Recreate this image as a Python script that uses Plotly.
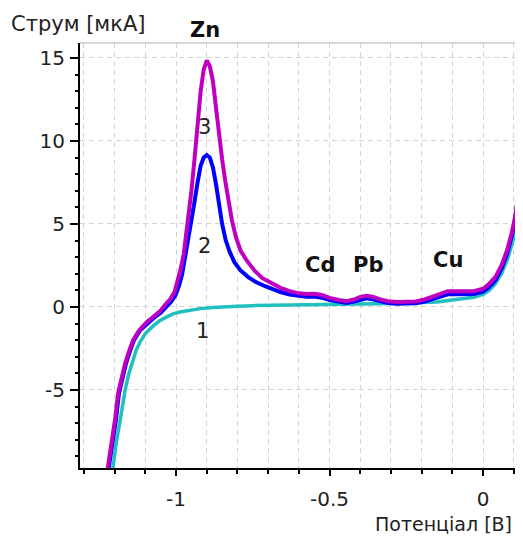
import plotly.graph_objects as go

# Curve 3 (magenta)
x3 = [-1.225, -1.210, -1.199, -1.189, -1.178, -1.166, -1.152, -1.140, -1.120, -1.095,
      -1.075, -1.052, -1.035, -1.020, -1.005, -0.995, -0.985, -0.975, -0.962, -0.950,
      -0.940, -0.930, -0.920, -0.910, -0.900, -0.890, -0.880, -0.870, -0.860, -0.850,
      -0.840, -0.830, -0.818, -0.805, -0.790, -0.770, -0.745, -0.720, -0.690, -0.660,
      -0.630, -0.600, -0.575, -0.550, -0.525, -0.500, -0.470, -0.445, -0.420, -0.400,
      -0.380, -0.360, -0.335, -0.310, -0.280, -0.250, -0.220, -0.190, -0.165, -0.140,
      -0.115, -0.090, -0.060, -0.030, 0.000, 0.020, 0.040, 0.060, 0.078, 0.094,
      0.105, 0.112, 0.118, 0.122, 0.127, 0.132]
y3 = [-10.0, -8.2, -6.8, -5.2, -4.2, -3.4, -2.6, -2.0, -1.4, -0.9,
      -0.6, -0.25, 0.15, 0.45, 0.9, 1.5, 2.3, 3.2, 5.0, 7.0,
      8.9, 11.0, 13.0, 14.3, 14.85, 14.5, 13.6, 12.0, 10.3, 8.9,
      7.6, 6.4, 5.2, 4.2, 3.4, 2.8, 2.2, 1.75, 1.45, 1.15,
      0.95, 0.82, 0.78, 0.80, 0.72, 0.55, 0.42, 0.35, 0.45, 0.60,
      0.68, 0.62, 0.45, 0.35, 0.30, 0.30, 0.33, 0.45, 0.62, 0.82,
      0.95, 0.95, 0.92, 0.95, 1.10, 1.40, 1.80, 2.50, 3.40, 4.50,
      5.50, 6.30, 7.30, 8.20, 9.50, 10.8]

# Curve 2 (blue)
x2 = [-1.222, -1.207, -1.196, -1.186, -1.175, -1.163, -1.149, -1.137, -1.117, -1.092,
      -1.072, -1.050, -1.032, -1.017, -1.002, -0.990, -0.980, -0.968, -0.955, -0.942,
      -0.930, -0.920, -0.910, -0.900, -0.890, -0.880, -0.870, -0.860, -0.850, -0.838,
      -0.825, -0.810, -0.790, -0.765, -0.740, -0.710, -0.690, -0.660, -0.630, -0.600,
      -0.575, -0.550, -0.525, -0.500, -0.470, -0.445, -0.420, -0.400, -0.380, -0.360,
      -0.335, -0.310, -0.280, -0.250, -0.220, -0.190, -0.165, -0.140, -0.115, -0.090,
      -0.060, -0.030, 0.000, 0.020, 0.040, 0.060, 0.078, 0.094, 0.105, 0.112,
      0.118, 0.122, 0.127, 0.132]
y2 = [-10.0, -8.2, -6.8, -5.2, -4.2, -3.4, -2.6, -2.0, -1.4, -0.95,
      -0.65, -0.35, 0.0, 0.3, 0.7, 1.3, 2.0, 3.2, 4.6, 6.1,
      7.5, 8.5, 9.0, 9.15, 9.0, 8.4, 7.4, 6.2, 5.0, 4.0,
      3.3, 2.7, 2.2, 1.8, 1.5, 1.25, 1.10, 0.90, 0.75, 0.66,
      0.62, 0.63, 0.56, 0.42, 0.30, 0.24, 0.32, 0.45, 0.52, 0.46,
      0.32, 0.24, 0.20, 0.20, 0.23, 0.32, 0.48, 0.65, 0.76, 0.76,
      0.74, 0.78, 0.92, 1.20, 1.60, 2.30, 3.20, 4.30, 5.30, 6.10,
      7.10, 8.00, 9.30, 10.6]

# Curve 1 (cyan)
x1 = [-1.208, -1.195, -1.182, -1.172, -1.166, -1.155, -1.143, -1.130, -1.117, -1.100,
      -1.078, -1.055, -1.030, -1.010, -0.987, -0.960, -0.922, -0.880, -0.840, -0.800,
      -0.750, -0.700, -0.650, -0.600, -0.550, -0.500, -0.450, -0.400, -0.350, -0.300,
      -0.250, -0.200, -0.150, -0.100, -0.060, -0.030, 0.000, 0.020, 0.040, 0.060,
      0.080, 0.096, 0.108, 0.116, 0.122, 0.127, 0.132]
y1 = [-10.0, -8.2, -6.8, -5.6, -5.0, -4.1, -3.3, -2.6, -2.1, -1.6,
      -1.2, -0.85, -0.6, -0.42, -0.3, -0.2, -0.1, -0.03, 0.02, 0.05,
      0.08, 0.10, 0.12, 0.13, 0.15, 0.16, 0.17, 0.19, 0.20, 0.21,
      0.23, 0.25, 0.30, 0.42, 0.50, 0.58, 0.75, 1.00, 1.40, 2.00,
      2.90, 3.90, 4.90, 5.90, 6.90, 8.10, 9.50]

x_tickvals = [-1, -0.5, 0]
x_ticktext = ["-1", "-0.5", "0"]
y_tickvals = [-5, 0, 5, 10, 15]
y_ticktext = ["-5", "0", "5", "10", "15"]

peak_labels = ["Cd", "Pb", "Cu"]
peak_x = [-0.531, -0.375, -0.114]
peak_y = [2.53, 2.53, 2.83]
zn_label = "Zn"
zn_x = -0.906

curve_labels = ["1", "2", "3"]
curve_lx = [-0.915, -0.906, -0.906]
curve_ly = [-1.45, 3.67, 10.85]

fig = go.Figure()
fig.add_trace(go.Scatter(x=x1, y=y1, mode="lines", line=dict(color="#20c0c0", width=3.5)))
fig.add_trace(go.Scatter(x=x2, y=y2, mode="lines", line=dict(color="#0000ff", width=4)))
fig.add_trace(go.Scatter(x=x3, y=y3, mode="lines", line=dict(color="#c000c0", width=4)))

bold_font = dict(family="DejaVu Sans", size=21, color="#111")
for t, x, y in zip(peak_labels, peak_x, peak_y):
    fig.add_annotation(x=x, y=y, text="<b>%s</b>" % t, showarrow=False, font=bold_font)
fig.add_annotation(x=zn_x, yref="paper", y=1.031, yanchor="middle",
                   text="<b>%s</b>" % zn_label, showarrow=False, font=bold_font)
for t, x, y in zip(curve_labels, curve_lx, curve_ly):
    fig.add_annotation(x=x, y=y, text=t, showarrow=False,
                       font=dict(family="DejaVu Sans", size=21, color="#222"))

fig.add_annotation(xref="paper", yref="paper", x=-0.163, y=1.045, xanchor="left",
                   yanchor="middle", text="Струм [мкА]", showarrow=False,
                   font=dict(family="DejaVu Sans", size=21, color="#222"))
fig.add_annotation(xref="paper", yref="paper", x=0.998, y=-0.162, xanchor="right",
                   yanchor="bottom", text="Потенціал [В]", showarrow=False,
                   font=dict(family="DejaVu Sans", size=19, color="#222"))

fig.add_shape(type="line", xref="paper", yref="paper", x0=0, x1=1, y0=1, y1=1,
              line=dict(color="#cccccc", width=1.5))

grid_style = dict(gridcolor="#d4d4d4", griddash="5px,4px", gridwidth=1)

fig.update_xaxes(range=[-1.313, 0.104], tickvals=x_tickvals, ticktext=x_ticktext,
                 showline=True, linecolor="black", linewidth=2, zeroline=False,
                 ticks="outside", ticklen=6, tickwidth=1.5, tickcolor="black",
                 ticklabelstandoff=6, tickfont=dict(family="DejaVu Sans", size=20, color="#222"),
                 showgrid=True, **grid_style,
                 minor=dict(dtick=0.1, tick0=0, ticks="outside", ticklen=4, tickcolor="black",
                            tickwidth=1.5, showgrid=True, **grid_style))
fig.update_yaxes(range=[-9.7, 15.9], tickvals=y_tickvals, ticktext=y_ticktext,
                 showline=True, linecolor="black", linewidth=2, zeroline=False,
                 ticks="outside", ticklen=8, tickwidth=1.5, tickcolor="black",
                 ticklabelstandoff=1, tickfont=dict(family="DejaVu Sans", size=20, color="#222"),
                 showgrid=True, **grid_style,
                 minor=dict(dtick=1, tick0=0, ticks="outside", ticklen=3, tickcolor="black",
                            tickwidth=1.5, showgrid=False))

# The page body has an 8px margin and the visible page ends 8px short on the right,
# so the figure is sized to stay fully inside the visible area.
fig.update_layout(width=507, height=529, margin=dict(l=72, r=0, t=35, b=69),
                  paper_bgcolor="white", plot_bgcolor="white", showlegend=False)

fig.write_html("out.html")
